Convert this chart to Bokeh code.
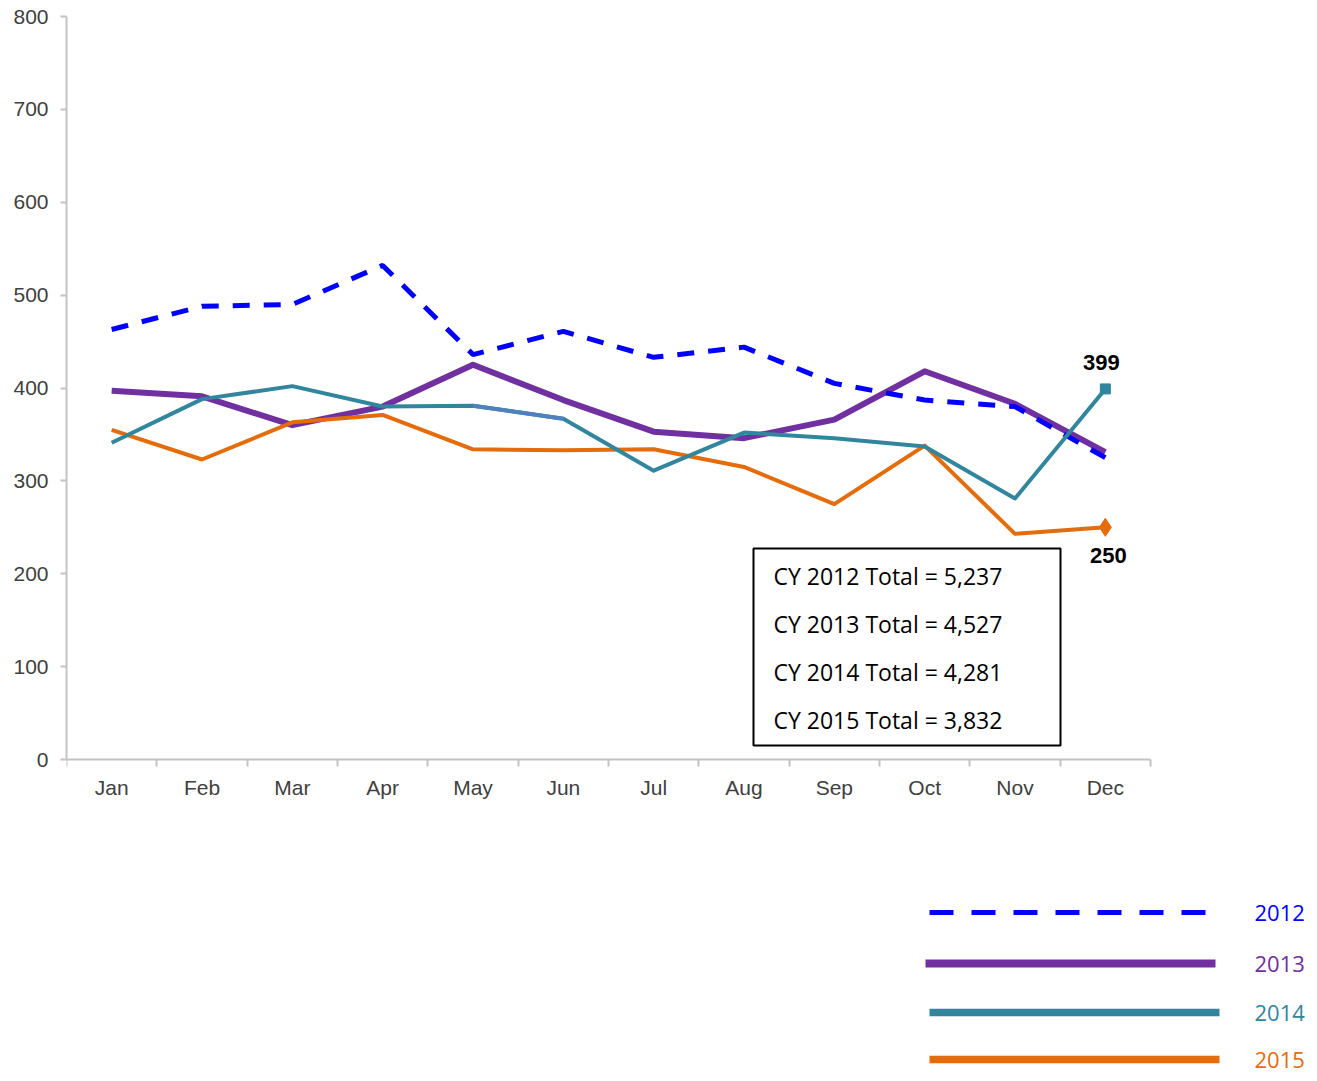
from bokeh.plotting import figure
from bokeh.models import Range1d, FixedTicker, BoxAnnotation, Label, LinearAxis
from bokeh.embed import file_html
from bokeh.resources import INLINE
from bokeh.core.properties import value

# ---------------- data ----------------
months = ["Jan", "Feb", "Mar", "Apr", "May", "Jun", "Jul", "Aug", "Sep", "Oct", "Nov", "Dec"]
years = ["2012", "2013", "2014", "2015"]
v2012 = [463, 488, 490, 532, 436, 461, 433, 444, 405, 387, 380, 325]
v2013 = [397, 391, 360, 380, 425, 387, 353, 346, 366, 418, 383, 331]
v2014 = [341, 388, 402, 380, 381, 367, 311, 352, 346, 337, 281, 399]
v2015 = [355, 323, 363, 371, 334, 333, 334, 315, 275, 338, 243, 250]
totals = ["5,237", "4,527", "4,281", "3,832"]
y_ticks = [0, 100, 200, 300, 400, 500, 600, 700, 800]
Y_MAX = 800

# ---------------- styles / layout ----------------
C2012 = "#0000FF"
C2013 = "#7030A0"
C2014 = "#31859C"
C2015 = "#E46C0A"
AXIS = "#c4c4c4"
TICKLBL = "#404040"

W, H = 1312, 1078
PX_LEFT, PX_RIGHT_AX, PX_TOP, PX_ZERO = 66, 1150, 16, 759   # plot-area pixel edges
BORDER_BOTTOM = 10
n = len(months)
ux = (PX_RIGHT_AX - PX_LEFT) / n          # pixels per month
uy = (PX_ZERO - PX_TOP) / Y_MAX           # pixels per unit
frame_bottom = H - BORDER_BOTTOM


def dx(px):
    return (px - PX_LEFT) / ux


def dy(py):
    return (PX_ZERO - py) / uy


xs = [i + 0.5 for i in range(n)]

p = figure(width=W, height=H, output_backend="svg", toolbar_location=None,
           x_range=Range1d(0, dx(W)), y_range=Range1d(dy(frame_bottom), Y_MAX),
           min_border_left=PX_LEFT, min_border_right=0, min_border_top=PX_TOP,
           min_border_bottom=BORDER_BOTTOM, x_axis_type=None, y_axis_type=None)
p.outline_line_color = None
p.xgrid.visible = False
p.ygrid.visible = False

yax = LinearAxis(ticker=FixedTicker(ticks=y_ticks, minor_ticks=[]), bounds=(0, Y_MAX))
yax.axis_line_color = AXIS
yax.axis_line_width = 2
yax.major_tick_line_color = AXIS
yax.major_tick_line_width = 2
yax.major_tick_out = 6
yax.major_tick_in = 0
yax.minor_tick_line_color = None
yax.major_label_text_font = "Liberation Sans"
yax.major_label_text_font_size = "21px"
yax.major_label_text_color = TICKLBL
yax.major_label_standoff = 12
p.add_layout(yax, "left")

# x axis drawn at y = 0 inside the plot; ticks at month boundaries
xax = LinearAxis(ticker=FixedTicker(ticks=[], minor_ticks=list(range(n + 1))),
                 bounds=(0, n), fixed_location=0)
xax.axis_line_color = AXIS
xax.axis_line_width = 2
xax.major_tick_line_color = None
xax.major_tick_out = 0
xax.major_tick_in = 0
xax.major_label_standoff = 0
xax.minor_tick_line_color = AXIS
xax.minor_tick_line_width = 2
xax.minor_tick_out = 7
xax.minor_tick_in = 0
p.add_layout(xax, "below")

# month labels
p.text(xs, [0] * n, text=months, y_offset=28, text_align="center", text_baseline="middle",
       text_font=value("Liberation Sans"), text_font_size="21px", text_color=TICKLBL)

# lines (drawing order: purple, blue, orange, teal)
p.line(xs, v2013, line_color=C2013, line_width=6, line_join="round")
p.line(xs, v2012, line_color=C2012, line_width=5, line_dash="17 14")
p.line(xs, v2015, line_color=C2015, line_width=4, line_join="round")
p.line(xs, v2014, line_color=C2014, line_width=4, line_join="round")
p.line(xs[4:6], v2014[4:6], line_color="#4F81BD", line_width=4)

p.scatter([xs[-1]], [v2014[-1]], marker="square", size=10, color=C2014)
p.scatter([xs[-1]], [v2015[-1]], marker="diamond", size=18, color=C2015)

p.add_layout(Label(x=xs[-1], y=v2014[-1], text=str(v2014[-1]), x_offset=-4, y_offset=26,
                   text_align="center", text_baseline="middle", text_font="Liberation Sans",
                   text_font_style="bold", text_font_size="22px", text_color="black"))
p.add_layout(Label(x=xs[-1], y=v2015[-1], text=str(v2015[-1]), x_offset=3, y_offset=-28,
                   text_align="center", text_baseline="middle", text_font="Liberation Sans",
                   text_font_style="bold", text_font_size="22px", text_color="black"))

# totals box
p.add_layout(BoxAnnotation(left=dx(753), right=dx(1060), top=dy(548), bottom=dy(745),
                           fill_color="white", fill_alpha=1, line_color="black",
                           line_width=2, line_alpha=1))
box_py = [575, 623, 671, 719]
for yr, tot, py in zip(years, totals, box_py):
    p.add_layout(Label(x=dx(773), y=dy(py), text=f"CY {yr} Total = {tot}",
                       text_baseline="middle", text_align="left", text_font="Open Sans",
                       text_font_size="23px", text_color="black"))

# ---------------- legend (below the plot area) ----------------
leg_colors = [C2012, C2013, C2014, C2015]
leg_widths = [5, 8, 7.5, 7.5]
leg_dash = ["24 18", "solid", "solid", "solid"]
leg_py = [912, 963, 1012, 1059]
leg_px0 = [929, 925, 929, 929]
leg_px1 = [1207, 1215, 1219, 1219]
LEG_TEXT_PX = 1254
for yr, c, w, d, py, a, b in zip(years, leg_colors, leg_widths, leg_dash, leg_py,
                                 leg_px0, leg_px1):
    p.line([dx(a), dx(b)], [dy(py), dy(py)], line_color=c, line_width=w, line_dash=d)
    p.text([dx(LEG_TEXT_PX)], [dy(py)], text=[yr], text_color=c, text_font=value("Open Sans"),
           text_font_size="22px", text_baseline="middle", text_align="left")

open("out.html", "w").write(file_html(p, INLINE))
